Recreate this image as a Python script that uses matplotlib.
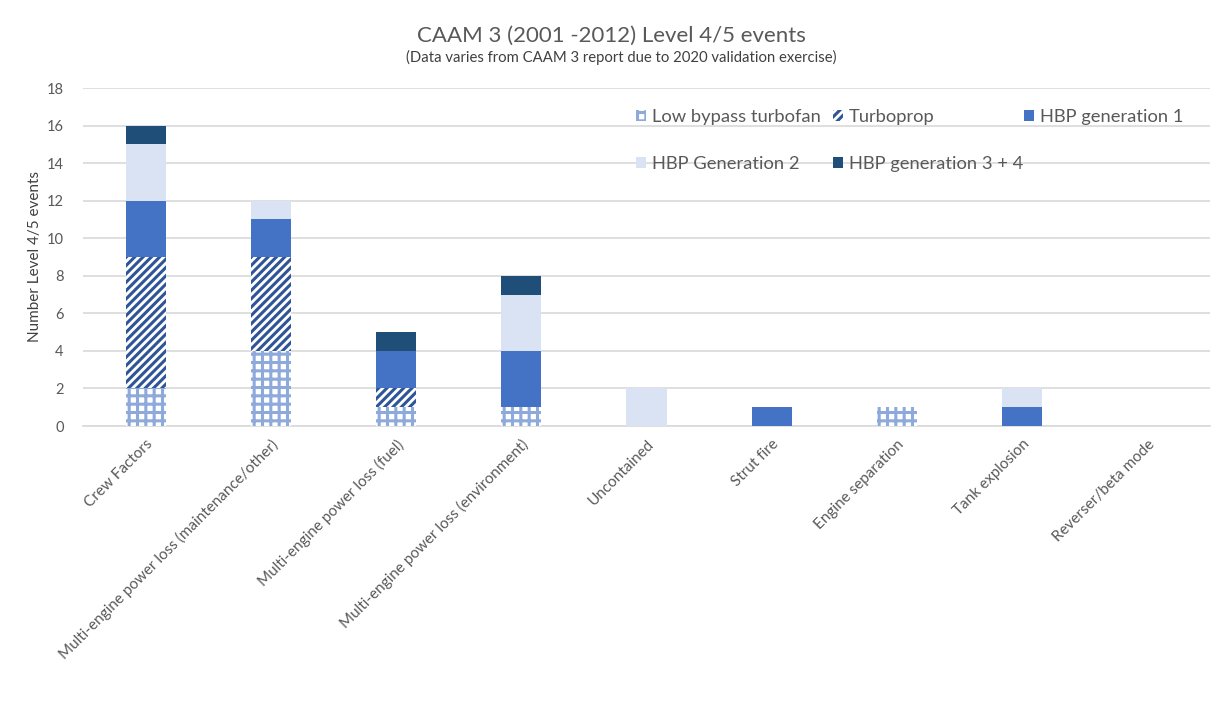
import numpy as np
import matplotlib.pyplot as plt

plt.rcParams['font.family'] = ['Lato', 'DejaVu Sans']
plt.rcParams['hatch.linewidth'] = 2.2

categories = ["Crew Factors", "Multi-engine power loss (maintenance/other)",
              "Multi-engine power loss (fuel)", "Multi-engine power loss (environment)",
              "Uncontained", "Strut fire", "Engine separation", "Tank explosion",
              "Reverser/beta mode"]
low_bypass = [2, 4, 1, 1, 0, 0, 1, 0, 0]
turboprop = [7, 5, 1, 0, 0, 0, 0, 0, 0]
hbp_gen1 = [3, 2, 2, 3, 0, 1, 0, 1, 0]
hbp_gen2 = [3, 1, 0, 3, 2, 0, 0, 1, 0]
hbp_gen34 = [1, 0, 1, 1, 0, 0, 0, 0, 0]

series = [
    ("Low bypass turbofan", low_bypass, dict(facecolor="white", edgecolor="#8eaadb", hatch="++")),
    ("Turboprop", turboprop, dict(facecolor="white", edgecolor="#2f5597", hatch="////")),
    ("HBP generation 1", hbp_gen1, dict(facecolor="#4472c4", edgecolor="#4472c4")),
    ("HBP Generation 2", hbp_gen2, dict(facecolor="#dae3f3", edgecolor="#dae3f3")),
    ("HBP generation 3 + 4", hbp_gen34, dict(facecolor="#1f4e79", edgecolor="#1f4e79")),
]

W, H = 1222, 723
fig = plt.figure(figsize=(W / 100, H / 100), dpi=100)
ax = fig.add_axes([83 / W, 1 - 426 / H, (1210 - 83) / W, (426 - 88) / H])

x = np.arange(len(categories))
bottom = np.zeros(len(categories))
bars = []
for name, vals, style in series:
    vals = np.array(vals, dtype=float)
    b = ax.bar(x, vals, width=0.32, bottom=bottom, label=name, linewidth=0, zorder=3, **style)
    bars.append(b)
    bottom += vals

ax.set_xlim(-0.5, len(categories) - 0.5)
ax.set_ylim(0, 18)
ax.set_yticks(range(0, 19, 2))
ax.yaxis.grid(True, color="#d9d9d9", linewidth=1.2, zorder=0)
ax.set_axisbelow(True)
for s in ["top", "right", "left"]:
    ax.spines[s].set_visible(False)
ax.spines["bottom"].set_color("#d9d9d9")
ax.spines["bottom"].set_linewidth(1.2)
ax.tick_params(length=0, colors="#595959", labelsize=10.5)
ax.tick_params(axis="x", pad=8, labelsize=11)
ax.tick_params(axis="y", pad=14)
ax.set_xticks(x)
ax.set_xticklabels(categories, rotation=45, ha="right", rotation_mode="anchor")
ax.set_ylabel("Number Level 4/5 events", color="#404040", fontsize=11, labelpad=3)

fig.text(0.5, 1 - 36 / H, "CAAM 3 (2001 -2012) Level 4/5 events", ha="center", va="center",
         fontsize=16, color="#595959")
fig.text(621 / W, 1 - 57 / H, "(Data varies from CAAM 3 report due to 2020 validation exercise)",
         ha="center", va="center", fontsize=10.7, color="#404040")

leg_kw = dict(frameon=False, fontsize=13.2, labelspacing=1.67, handlelength=0.55,
              handleheight=0.55, handletextpad=0.3, borderpad=0, borderaxespad=0,
              loc="upper left", bbox_transform=fig.transFigure)
order = [0, 3, 1, 4]
leg1 = ax.legend([bars[i] for i in order], [series[i][0] for i in order], ncol=2,
                 columnspacing=0.7, bbox_to_anchor=(636 / W, 1 - 109 / H), **leg_kw)
for t in leg1.get_texts():
    t.set_color("#595959")
ax.add_artist(leg1)
leg2 = ax.legend([bars[2]], [series[2][0]], bbox_to_anchor=(1024 / W, 1 - 109 / H), **leg_kw)
for t in leg2.get_texts():
    t.set_color("#595959")

fig.savefig("out.png", dpi=100)
